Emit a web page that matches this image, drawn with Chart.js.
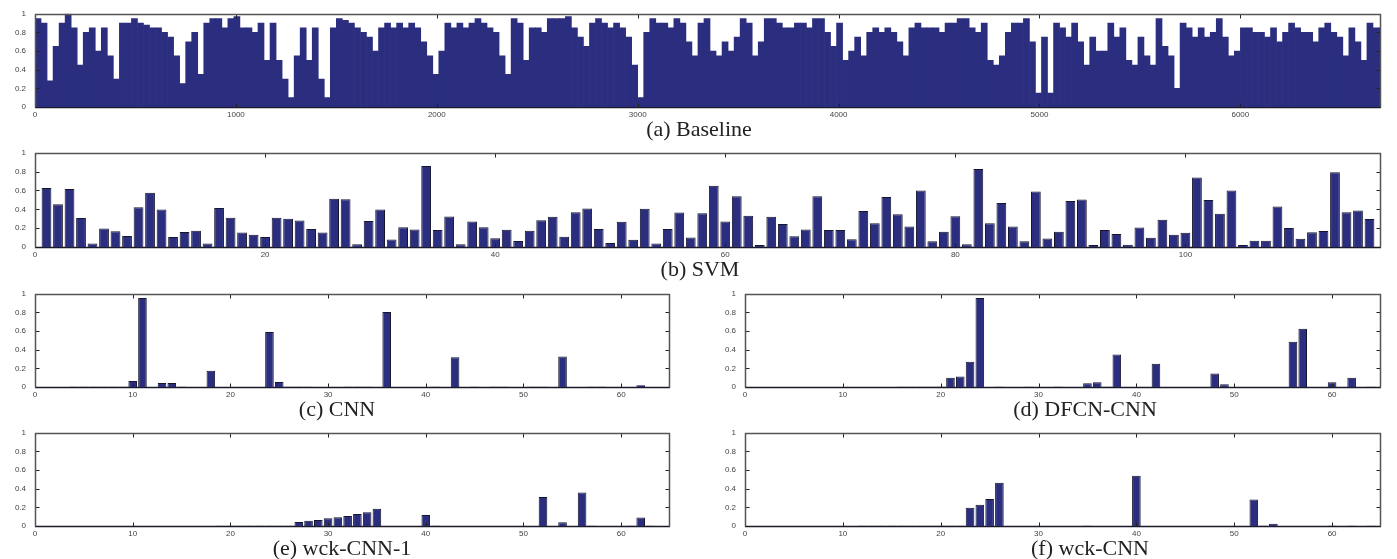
<!DOCTYPE html>
<html lang="en">
<head>
<meta charset="UTF-8">
<title>Bar panels</title>
<script src="https://cdn.jsdelivr.net/npm/chart.js"></script>
<style>
  body { margin: 0; background: #fff; width: 1397px; height: 559px; position: relative; overflow: hidden; }
  canvas { position: absolute; }
  .cap { position: absolute; font-family: 'Liberation Serif', 'Times New Roman', serif; font-size: 22px; line-height: 22px; color: #222; text-align: center; white-space: nowrap; }
</style>
</head>
<body>
<canvas id="pa"></canvas>
<canvas id="pb"></canvas>
<canvas id="pc"></canvas>
<canvas id="pd"></canvas>
<canvas id="pe"></canvas>
<canvas id="pf"></canvas>

<script>
// ---- data ----
const captions = ['(a) Baseline', '(b) SVM', '(c) CNN', '(d) DFCN-CNN', '(e) wck-CNN-1', '(f) wck-CNN'];

const yTicks = [0, 0.2, 0.4, 0.6, 0.8, 1];
const xTicksA = [0, 1000, 2000, 3000, 4000, 5000, 6000];
const xTicksB = [0, 20, 40, 60, 80, 100];
const xTicksC = [0, 10, 20, 30, 40, 50, 60];

// baseline: 6700 items, read as averages over bins of 30 items
const baselineVals = [
  0.95,0.9,0.28,0.65,0.9,1.0,0.85,0.45,0.8,0.85,
  0.6,0.85,0.55,0.3,0.9,0.9,0.95,0.9,0.88,0.85,
  0.85,0.8,0.75,0.55,0.25,0.7,0.8,0.35,0.9,0.95,
  0.95,0.85,0.95,0.97,0.85,0.85,0.8,0.9,0.5,0.9,
  0.5,0.3,0.1,0.55,0.85,0.5,0.85,0.3,0.1,0.85,
  0.95,0.93,0.9,0.85,0.8,0.75,0.6,0.85,0.9,0.85,
  0.9,0.85,0.9,0.85,0.7,0.55,0.35,0.6,0.9,0.85,
  0.9,0.85,0.9,0.95,0.9,0.85,0.8,0.55,0.35,0.95,
  0.9,0.5,0.85,0.85,0.8,0.95,0.95,0.95,0.97,0.85,
  0.75,0.65,0.9,0.95,0.9,0.85,0.9,0.85,0.75,0.45,
  0.1,0.8,0.95,0.9,0.9,0.85,0.95,0.9,0.7,0.55,
  0.9,0.95,0.6,0.55,0.7,0.6,0.75,0.95,0.9,0.55,
  0.7,0.95,0.95,0.9,0.85,0.85,0.9,0.9,0.85,0.95,
  0.95,0.8,0.65,0.9,0.5,0.6,0.75,0.55,0.8,0.85,
  0.8,0.85,0.8,0.7,0.55,0.85,0.9,0.85,0.85,0.85,
  0.8,0.9,0.9,0.95,0.95,0.85,0.8,0.9,0.5,0.45,
  0.55,0.8,0.9,0.9,0.95,0.7,0.15,0.75,0.15,0.9,
  0.85,0.75,0.9,0.7,0.45,0.75,0.6,0.6,0.9,0.75,
  0.85,0.5,0.45,0.75,0.55,0.45,0.95,0.65,0.55,0.2,
  0.9,0.85,0.75,0.85,0.75,0.8,0.95,0.75,0.55,0.6,
  0.85,0.85,0.8,0.8,0.75,0.85,0.7,0.8,0.9,0.85,
  0.8,0.8,0.7,0.85,0.9,0.8,0.75,0.55,0.85,0.7,
  0.5,0.9,0.85,0.85
];

const svmVals = [
  0.627,0.453,0.617,0.307,0.037,0.197,0.167,0.117,0.423,0.577,
  0.397,0.107,0.16,0.173,0.037,0.413,0.31,0.153,0.13,0.107,
  0.31,0.30,0.28,0.19,0.153,0.513,0.507,0.03,0.277,0.397,
  0.08,0.21,0.187,0.86,0.18,0.323,0.03,0.27,0.21,0.093,
  0.183,0.063,0.173,0.283,0.32,0.11,0.37,0.41,0.19,0.043,
  0.267,0.077,0.407,0.037,0.19,0.367,0.10,0.357,0.65,0.27,
  0.54,0.333,0.02,0.32,0.243,0.113,0.187,0.54,0.18,0.18,
  0.083,0.383,0.253,0.53,0.347,0.217,0.60,0.06,0.163,0.327,
  0.03,0.827,0.253,0.467,0.217,0.06,0.59,0.09,0.163,0.487,
  0.503,0.02,0.18,0.137,0.023,0.207,0.097,0.29,0.13,0.15,
  0.737,0.5,0.353,0.60,0.02,0.067,0.067,0.43,0.203,0.087,
  0.157,0.17,0.793,0.37,0.387,0.297
];

const cnnVals = [
  0,0,0,0.012,0.012,0.012,0.012,0.012,0.012,0.064,
  0.955,0,0.044,0.044,0.012,0,0,0.175,0,0,
  0,0,0,0.59,0.054,0.012,0.012,0.012,0,0,
  0,0.012,0.012,0.012,0,0.805,0,0,0,0,
  0.012,0,0.32,0,0.012,0,0.012,0.012,0,0,
  0.012,0.012,0,0.327,0,0,0.012,0.012,0,0,
  0,0.02,0,0
];

const dfcnVals = [
  0,0,0,0,0,0,0,0,0,0,
  0,0,0,0,0,0.012,0.012,0.012,0.012,0.012,
  0.1,0.113,0.27,0.955,0,0.012,0,0,0.012,0,
  0,0.012,0,0,0.04,0.05,0.012,0.35,0,0,
  0,0.25,0,0,0,0,0,0.145,0.03,0,
  0,0,0,0,0,0.485,0.625,0,0,0.05,
  0,0.1,0,0.012
];

const wck1Vals = [
  0,0,0,0,0,0,0,0,0,0,
  0,0,0,0,0,0,0,0,0.012,0.012,
  0.012,0.012,0.012,0.012,0.012,0.012,0.044,0.057,0.064,0.082,
  0.095,0.106,0.13,0.148,0.185,0,0,0,0,0.118,
  0.012,0,0,0,0,0,0,0,0,0,
  0,0.31,0,0.04,0,0.36,0.012,0,0,0,
  0.012,0.09,0.012,0
];

const wckVals = [
  0,0,0,0,0,0,0,0,0,0,
  0,0.012,0.012,0.012,0.012,0.012,0.012,0.012,0.012,0.012,
  0.012,0.012,0.195,0.228,0.289,0.463,0,0,0,0,
  0,0,0,0,0.012,0,0,0,0,0.54,
  0,0,0,0,0,0,0,0,0,0,
  0,0.285,0.012,0.025,0,0,0,0,0,0.012,
  0,0.012,0,0.012
];

// ---- drawing ----
const NAVY = '#2b2e7e';
const EDGE = '#15152e';
const FONT = "'Liberation Sans', Arial, sans-serif";

// box round the plot with ticks pointing inward, as in the figure
const boxTicks = {
  id: 'boxTicks',
  beforeDatasetsDraw(chart) {
    const { ctx, chartArea: a } = chart;
    const B = Math.round(a.bottom) + 0.5;
    ctx.save();
    ctx.strokeStyle = '#1a1a2a';
    ctx.lineWidth = 1.5;
    ctx.beginPath();
    ctx.moveTo(Math.round(a.left), B); ctx.lineTo(Math.round(a.right), B);
    ctx.stroke();
    ctx.restore();
  },
  afterDatasetsDraw(chart) {
    const { ctx, chartArea: a, scales: { x, y } } = chart;
    const L = Math.round(a.left) + 0.5, R = Math.round(a.right) - 0.5;
    const T = Math.round(a.top) + 0.5, B = Math.round(a.bottom) + 0.5;
    ctx.save();
    ctx.lineWidth = 1;
    ctx.strokeStyle = '#222';
    ctx.beginPath();
    x.ticks.forEach(t => {
      const px = Math.round(x.getPixelForValue(t.value)) + 0.5;
      if (px <= L + 1 || px >= R - 1) return;
      ctx.moveTo(px, B); ctx.lineTo(px, B - 4);
      ctx.moveTo(px, T); ctx.lineTo(px, T + 4);
    });
    y.ticks.forEach(t => {
      const py = Math.round(y.getPixelForValue(t.value)) + 0.5;
      if (py <= T + 1 || py >= B - 1) return;
      ctx.moveTo(L, py); ctx.lineTo(L + 4, py);
      ctx.moveTo(R, py); ctx.lineTo(R - 4, py);
    });
    ctx.stroke();
    ctx.strokeStyle = '#555';
    ctx.lineWidth = 1.5;
    ctx.beginPath();
    ctx.moveTo(L, B); ctx.lineTo(L, T); ctx.lineTo(R, T); ctx.lineTo(R, B);
    ctx.stroke();
    ctx.restore();
  }
};

// near-zero bars show only as light grey dashes in the figure
const tiny = c => c.raw && c.raw.y > 0 && c.raw.y < 0.015;

function panel(p) {
  const cv = document.getElementById(p.id);
  cv.width = p.w;
  cv.height = p.h;
  cv.style.left = p.left + 'px';
  cv.style.top = p.top + 'px';

  const pts = p.vals.map((v, i) => ({ x: p.x0 + i * p.dx, y: v }));

  new Chart(cv, {
    type: 'bar',
    data: {
      datasets: [{
        data: pts,
        backgroundColor: c => tiny(c) ? '#b0b0b0' : NAVY,
        borderColor: c => tiny(c) ? '#a0a0a0' : EDGE,
        borderWidth: c => tiny(c) ? 0 : p.bw,
        borderSkipped: 'start',
        barPercentage: p.bp,
        categoryPercentage: 1
      }]
    },
    options: {
      responsive: false,
      animation: false,
      events: [],
      layout: { padding: { top: 8, right: 4, left: 0, bottom: 0 } },
      plugins: { legend: { display: false }, tooltip: { enabled: false } },
      scales: {
        x: {
          type: 'linear',
          min: 0,
          max: p.xmax,
          offset: false,
          grid: { display: false, drawTicks: false },
          border: { display: false },
          afterBuildTicks: s => { s.ticks = p.xt.map(v => ({ value: v })); },
          afterFit: s => { s.height = 14; },
          ticks: {
            padding: 3, autoSkip: false, maxRotation: 0,
            color: '#444', font: { family: FONT, size: 8 },
            callback: v => String(v)
          }
        },
        y: {
          min: 0,
          max: 1,
          grid: { display: false, drawTicks: false },
          border: { display: false },
          afterBuildTicks: s => { s.ticks = yTicks.map(v => ({ value: v })); },
          afterFit: s => { s.width = 35; },
          ticks: {
            padding: 9,
            color: '#444', font: { family: FONT, size: 8 },
            callback: v => String(v)
          }
        }
      }
    },
    plugins: [boxTicks]
  });

  const cap = document.createElement('div');
  cap.className = 'cap';
  cap.textContent = p.cap;
  cap.style.left = (p.capX - 150) + 'px';
  cap.style.width = '300px';
  cap.style.top = (p.capY - 11) + 'px';
  document.body.appendChild(cap);
}

const panels = [
  { id: 'pa', left: 0,   top: 0,   w: 1385, h: 121, vals: baselineVals, x0: 15, dx: 30, xmax: 6700, xt: xTicksA, bp: 1.0,  bw: 0, cap: captions[0], capX: 699,  capY: 129 },
  { id: 'pb', left: 0,   top: 139, w: 1385, h: 122, vals: svmVals,      x0: 1,  dx: 1,  xmax: 117,  xt: xTicksB, bp: 0.85, bw: 1, cap: captions[1], capX: 700,  capY: 269 },
  { id: 'pc', left: 0,   top: 280, w: 674,  h: 121, vals: cnnVals,      x0: 1,  dx: 1,  xmax: 65,   xt: xTicksC, bp: 0.88, bw: 1, cap: captions[2], capX: 337,  capY: 409 },
  { id: 'pd', left: 710, top: 280, w: 675,  h: 121, vals: dfcnVals,     x0: 1,  dx: 1,  xmax: 65,   xt: xTicksC, bp: 0.88, bw: 1, cap: captions[3], capX: 1085, capY: 409 },
  { id: 'pe', left: 0,   top: 419, w: 674,  h: 121, vals: wck1Vals,     x0: 1,  dx: 1,  xmax: 65,   xt: xTicksC, bp: 0.88, bw: 1, cap: captions[4], capX: 342,  capY: 548 },
  { id: 'pf', left: 710, top: 419, w: 675,  h: 121, vals: wckVals,      x0: 1,  dx: 1,  xmax: 65,   xt: xTicksC, bp: 0.88, bw: 1, cap: captions[5], capX: 1090, capY: 548 }
];

panels.forEach(panel);
</script>
</body>
</html>
